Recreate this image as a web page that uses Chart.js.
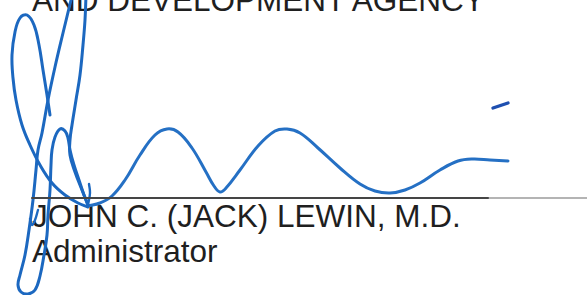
<!DOCTYPE html>
<html>
<head>
<meta charset="utf-8">
<script src="https://cdn.jsdelivr.net/npm/chart.js@4/dist/chart.umd.min.js"></script>
<style>
  body { margin: 0; background: #fff; }
  #wrap { position: relative; width: 587px; height: 295px; overflow: hidden; }
  .txt { position: absolute; left: 32px; font-family: "Liberation Sans", Arial, sans-serif;
         font-size: 31.5px; line-height: 30px; color: #1f1f1f; white-space: nowrap; }
  canvas { position: absolute; left: 0; top: 0; }
</style>
</head>
<body>
<div id="wrap">
  <div class="txt" style="top:-15px">AND DEVELOPMENT AGENCY</div>
  <div class="txt" style="top:201px">JOHN C. (JACK) LEWIN, M.D.</div>
  <div class="txt" style="top:236px">Administrator</div>
  <canvas id="sig" width="587" height="295"></canvas>
</div>
<script>
// signature strokes, in page units (x right, y down)
const lineDark = [[32,198],[488,198]];
const lineLight = [[488,198],[587,198]];

const leftLoop = [[50,115],[47,95],[43,70],[39,45],[34,25],[27,15],[20,18],[15,32],[12,55],[13,78],
  [16,100],[22,125],[30,145],[40,165],[52,183],[65,195],[78,203],[88,207]];

const longStroke = [[72,-4],[63,33],[55,67],[48,100],[42,133],[38,150],[36,170],[33,200],[29,230],
  [25,255],[20,275],[18,285],[21,292],[28,294],[35,290],[40,276],[44,255],[47,235],[48,215],
  [50,190],[51,165],[52,150],[55,137],[60,129],[65,131],[68,138],[70,150],[74,165],[79,180],[84,195],[88,205]];

const rightStroke = [[86,-4],[85,20],[83,45],[80,75],[76,100],[72,125],[70,140],[70,155],[75,172],[82,190],[88,205]];

const wave = [[88,206],[100,203],[112,196],[125,180],[140,155],[155,135],[167,129],[178,132],[192,148],
  [206,172],[214,186],[220,192],[226,188],[240,170],[258,146],[275,131],[287,129],[300,133],[318,148],
  [340,168],[360,184],[375,191],[390,193],[405,190],[420,183],[440,170],[458,161],[473,159],[490,160],[508,161]];

const tick = [[89,184],[90,193],[88,205]];
const hook = [[38,210],[35,220],[32,225],[30,219]];
const dash = [[493,108],[508,103]];

const toPts = a => a.map(p => ({x: p[0], y: p[1]}));
const blue = '#1c68c0';

function stroke(arr, color, width) {
  return { data: toPts(arr), borderColor: color, borderWidth: width, pointRadius: 0,
    tension: 0.4, fill: false, borderCapStyle: 'round', borderJoinStyle: 'round' };
}

new Chart(document.getElementById('sig'), {
  type: 'line',
  data: {
    datasets: [
      stroke(lineDark, '#454545', 2),
      stroke(lineLight, '#b4b4b4', 2),
      stroke(leftLoop, blue, 3),
      stroke(longStroke, blue, 3),
      stroke(rightStroke, blue, 3),
      stroke(wave, '#2570c4', 3),
      stroke(tick, blue, 2.4),
      stroke(hook, blue, 2.4),
      stroke(dash, '#1e4fb0', 3.4)
    ]
  },
  options: {
    responsive: false,
    animation: false,
    layout: { padding: 0 },
    clip: false,
    scales: {
      x: { type: 'linear', min: 0, max: 587, display: false },
      y: { type: 'linear', min: 0, max: 295, reverse: true, display: false }
    },
    plugins: { legend: { display: false }, tooltip: { enabled: false } }
  }
});
</script>
</body>
</html>
